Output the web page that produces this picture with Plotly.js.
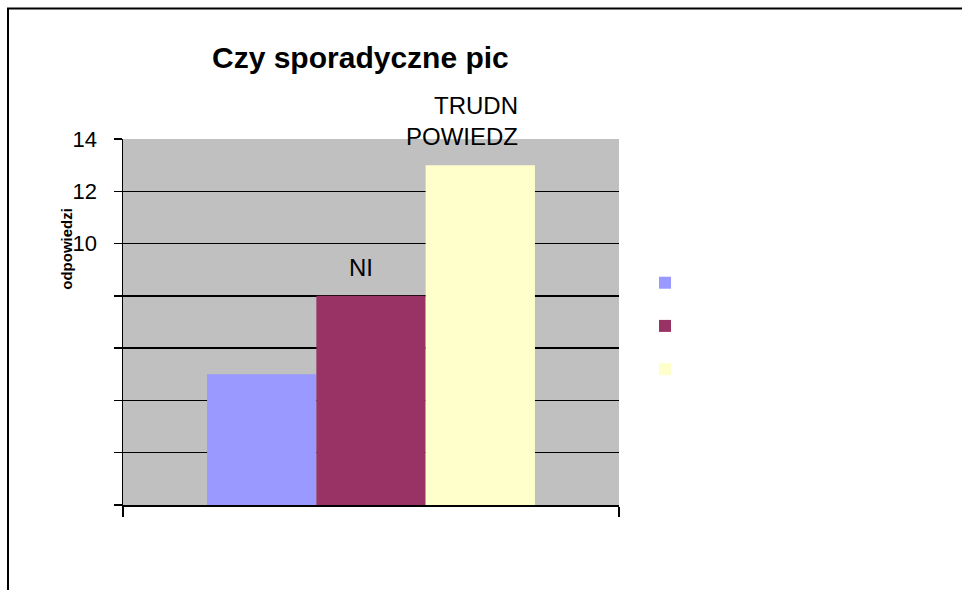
<!DOCTYPE html>
<html><head><meta charset="utf-8">
<script src="https://cdn.plot.ly/plotly-3.0.1.min.js"></script>
<style>html,body{margin:0;padding:0;background:#fff;overflow:hidden}</style>
</head><body>
<div id="chart" style="width:962px;height:590px"></div>
<script>
// ---- data ----
const category = ["Odpowiedzi"];
const seriesNames = ["TAK", "NIE", "TRUDNO POWIEDZIEĆ"];
const seriesValues = [5, 8, 13];
const seriesColors = ["#9999FF", "#993366", "#FFFFCC"];
const barLabels = ["", "NI", "TRUDN<br>POWIEDZ"];
const yTickVals = [0, 2, 4, 6, 8, 10, 12, 14];
const yTickText = ["", "", "", "", "", "10", "12", "14"];
const titleText = "Czy sporadyczne pic";
const yTitleText = "odpowiedzi";

const FONT = "Liberation Sans, Arial, sans-serif";
const bargap = 0.339;

const traces = seriesNames.map((name, i) => ({
  type: "bar",
  name: name,
  legendgroup: "g" + i,
  x: category,
  y: [seriesValues[i]],
  marker: { color: seriesColors[i], line: { width: 0 } },
  hoverinfo: "none"
}));

// data labels placed at each bar's top through the axis scales
const groupW = 1 - bargap;
const labelShift = [0, -10, -18];
const annotations = seriesNames.map((name, i) => ({
  xref: "x", yref: "y",
  x: -groupW / 2 + (i + 0.5) * groupW / seriesNames.length,
  y: seriesValues[i],
  text: barLabels[i],
  showarrow: false,
  xanchor: "center", yanchor: "bottom",
  align: "right",
  xshift: labelShift[i], yshift: 13,
  font: { family: FONT, size: 24, color: "#000" }
}));
annotations.push({
  xref: "paper", yref: "paper",
  x: -0.113, y: 0.70,
  text: "<b>" + yTitleText + "</b>",
  textangle: -90,
  showarrow: false,
  xanchor: "center", yanchor: "middle",
  font: { family: FONT, size: 15, color: "#000" }
});

const layout = {
  width: 962, height: 590,
  margin: { l: 123, r: 343, t: 139, b: 85, autoexpand: false },
  paper_bgcolor: "#ffffff",
  plot_bgcolor: "#C0C0C0",
  font: { family: FONT, color: "#000" },
  title: {
    text: "<b>" + titleText + "</b>",
    x: 212 / 962, xanchor: "left", xref: "container",
    y: 1 - 57 / 590, yanchor: "middle", yref: "container",
    font: { family: FONT, size: 30, color: "#000" },
    automargin: false
  },
  barmode: "group",
  bargap: bargap,
  bargroupgap: 0,
  showlegend: true,
  legend: {
    x: 1.0524, xanchor: "left",
    y: 0.650, yanchor: "top",
    font: { family: FONT, size: 14, color: "#ffffff" },
    bgcolor: "rgba(0,0,0,0)",
    borderwidth: 0,
    traceorder: "grouped",
    tracegroupgap: 22
  },
  xaxis: {
    type: "category",
    range: [-0.5, 0.5],
    showticklabels: false,
    ticks: "outside", ticklen: 10, tickwidth: 1.5, tickcolor: "#000",
    tickson: "boundaries",
    showline: true, linecolor: "#000", linewidth: 1.5,
    showgrid: false, zeroline: false,
    fixedrange: true
  },
  yaxis: {
    range: [0, 14],
    tickvals: yTickVals, ticktext: yTickText,
    ticks: "outside", ticklen: 8, tickwidth: 1.5, tickcolor: "#000",
    ticklabelstandoff: 12,
    tickfont: { family: FONT, size: 22, color: "#000" },
    showline: true, linecolor: "#000", linewidth: 1.5,
    showgrid: true, gridcolor: "#000", gridwidth: 1.5,
    zeroline: false,
    fixedrange: true
  },
  annotations: annotations,
  shapes: [{
    type: "rect", xref: "paper", yref: "paper",
    x0: (8 - 123) / 496, x1: 2,
    y0: -1, y1: (505 - 8.5) / 366,
    line: { color: "#000", width: 2 },
    fillcolor: "rgba(0,0,0,0)",
    layer: "above"
  }]
};

Plotly.newPlot("chart", traces, layout, { displayModeBar: false, staticPlot: true });
</script>
</body></html>
